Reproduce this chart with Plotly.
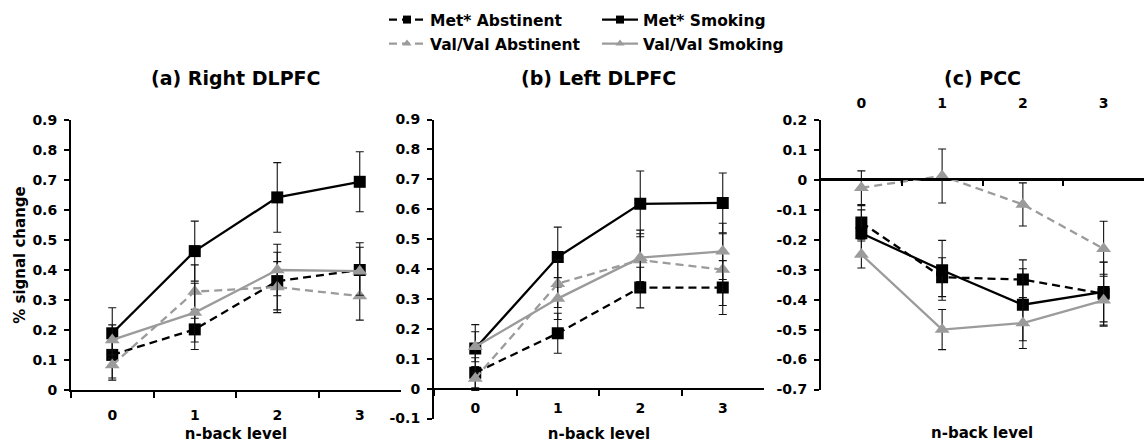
import plotly.graph_objects as go

W, H = 1144, 445

# ---------------- data ----------------
levels = ["0", "1", "2", "3"]
series_names = ["Met* Abstinent", "Met* Smoking", "Val/Val Abstinent", "Val/Val Smoking"]
panel_titles = ["(a) Right DLPFC", "(b) Left DLPFC", "(c) PCC"]

# (a) Right DLPFC
a_met_abs = [0.117, 0.202, 0.363, 0.400]
a_met_abs_err = [0.077, 0.067, 0.096, 0.091]
a_met_smk = [0.189, 0.463, 0.642, 0.694]
a_met_smk_err = [0.085, 0.100, 0.116, 0.100]
a_vv_abs = [0.083, 0.328, 0.343, 0.313]
a_vv_abs_err = [0.050, 0.089, 0.085, 0.080]
a_vv_smk = [0.167, 0.258, 0.400, 0.396]
a_vv_smk_err = [0.050, 0.098, 0.086, 0.080]

# (b) Left DLPFC
b_met_abs = [0.053, 0.185, 0.338, 0.338]
b_met_abs_err = [0.050, 0.067, 0.068, 0.090]
b_met_smk = [0.134, 0.440, 0.618, 0.621]
b_met_smk_err = [0.080, 0.100, 0.110, 0.100]
b_vv_abs = [0.034, 0.351, 0.430, 0.398]
b_vv_abs_err = [0.040, 0.080, 0.100, 0.120]
b_vv_smk = [0.140, 0.301, 0.438, 0.459]
b_vv_smk_err = [0.050, 0.070, 0.080, 0.094]

# (c) PCC
c_met_abs = [-0.142, -0.325, -0.333, -0.380]
c_met_abs_err = [0.056, 0.065, 0.066, 0.105]
c_met_smk = [-0.178, -0.302, -0.417, -0.374]
c_met_smk_err = [0.078, 0.100, 0.120, 0.100]
c_vv_abs = [-0.026, 0.013, -0.082, -0.230]
c_vv_abs_err = [0.056, 0.090, 0.072, 0.092]
c_vv_smk = [-0.249, -0.500, -0.478, -0.402]
c_vv_smk_err = [0.045, 0.067, 0.085, 0.087]

a_yticks = [0, 0.1, 0.2, 0.3, 0.4, 0.5, 0.6, 0.7, 0.8, 0.9]
a_ylabels = ["0", "0.1", "0.2", "0.3", "0.4", "0.5", "0.6", "0.7", "0.8", "0.9"]
b_yticks = [-0.1, 0, 0.1, 0.2, 0.3, 0.4, 0.5, 0.6, 0.7, 0.8, 0.9]
b_ylabels = ["-0.1", "0", "0.1", "0.2", "0.3", "0.4", "0.5", "0.6", "0.7", "0.8", "0.9"]
c_yticks = [-0.7, -0.6, -0.5, -0.4, -0.3, -0.2, -0.1, 0, 0.1, 0.2]
c_ylabels = ["-0.7", "-0.6", "-0.5", "-0.4", "-0.3", "-0.2", "-0.1", "0", "0.1", "0.2"]

# ---------------- styling ----------------
BLACK = "#000000"
GRAY = "#9b9b9b"
FONT = "DejaVu Sans"
DASH = "8px,5px"

styles = {
    "Met* Abstinent": dict(color=BLACK, symbol="square", dash=DASH, size=12, legend="legend"),
    "Met* Smoking": dict(color=BLACK, symbol="square", dash="solid", size=12, legend="legend"),
    "Val/Val Abstinent": dict(color=GRAY, symbol="triangle-up", dash=DASH, size=13, legend="legend2"),
    "Val/Val Smoking": dict(color=GRAY, symbol="triangle-up", dash="solid", size=13, legend="legend2"),
}


def px_x(p):
    return p / W


def px_y(p):
    return 1 - p / H


fig = go.Figure()

panels = [
    ("x", "y", [(a_met_abs, a_met_abs_err), (a_met_smk, a_met_smk_err),
                (a_vv_abs, a_vv_abs_err), (a_vv_smk, a_vv_smk_err)]),
    ("x2", "y2", [(b_met_abs, b_met_abs_err), (b_met_smk, b_met_smk_err),
                  (b_vv_abs, b_vv_abs_err), (b_vv_smk, b_vv_smk_err)]),
    ("x3", "y3", [(c_met_abs, c_met_abs_err), (c_met_smk, c_met_smk_err),
                  (c_vv_abs, c_vv_abs_err), (c_vv_smk, c_vv_smk_err)]),
]

for xa, ya, data in panels:
    for name, (vals, errs) in zip(series_names, data):
        st = styles[name]
        fig.add_trace(go.Scatter(
            x=levels, y=vals, xaxis=xa, yaxis=ya, name=name, showlegend=False,
            mode="lines+markers",
            line=dict(color=st["color"], width=2.3, dash=st["dash"]),
            marker=dict(color=st["color"], symbol=st["symbol"], size=st["size"],
                        line=dict(width=0)),
            error_y=dict(type="data", array=errs, visible=True, color="#111111",
                         thickness=1.1, width=4),
            hoverinfo="skip",
        ))

# legend entries
for name in series_names:
    st = styles[name]
    fig.add_trace(go.Scatter(
        x=[None], y=[None], xaxis="x", yaxis="y", name=name, legend=st["legend"],
        mode="lines+markers",
        line=dict(color=st["color"], width=2.3, dash=st["dash"]),
        marker=dict(color=st["color"], symbol=st["symbol"], size=8),
    ))

# empty trace so the crossing axis of panel (c) is drawn
fig.add_trace(go.Scatter(x=[None], y=[None], xaxis="x4", yaxis="y3", showlegend=False,
                         hoverinfo="skip"))

tickfont = dict(family=FONT, size=14, color=BLACK, weight="bold")
titlefont = dict(family=FONT, size=15, color=BLACK, weight="bold")

common_x = dict(
    type="category", categoryorder="array", categoryarray=levels, range=[-0.5, 3.5],
    showline=True, linecolor=BLACK, linewidth=2, ticks="outside", tickson="boundaries",
    ticklen=6, tickwidth=2, tickcolor=BLACK, tickfont=tickfont, showgrid=False,
    zeroline=False, automargin=False,
)
common_y = dict(
    showline=True, linecolor=BLACK, linewidth=2, ticks="outside", ticklen=5, tickwidth=2,
    tickcolor=BLACK, tickfont=tickfont, showgrid=False, zeroline=False,
    automargin=False, tickmode="array", ticklabelstandoff=4,
)

fig.update_layout(
    width=W, height=H,
    margin=dict(l=0, r=0, t=0, b=0), autosize=False,
    paper_bgcolor="white", plot_bgcolor="white",
    xaxis=dict(common_x, domain=[px_x(71), px_x(401)], anchor="y",
               ticklabelstandoff=11,
               title=dict(text="n-back level", font=titlefont, standoff=7)),
    yaxis=dict(common_y, domain=[px_y(390), px_y(120)], anchor="x", range=[0, 0.9],
               tickvals=a_yticks, ticktext=a_ylabels,
               title=dict(text="% signal change", font=titlefont, standoff=3)),
    xaxis2=dict(common_x, domain=[px_x(434), px_x(764)], anchor="free",
                position=px_y(388.7), ticklabelstandoff=6,
                title=dict(text="n-back level", font=titlefont, standoff=13)),
    yaxis2=dict(common_y, domain=[px_y(418.5), px_y(119.5)], anchor="x2", range=[-0.1, 0.9],
                tickvals=b_yticks, ticktext=b_ylabels),
    xaxis3=dict(common_x, domain=[px_x(821), 1.0], anchor="y3", side="top",
                showline=False, ticks="", ticklabelstandoff=8),
    xaxis4=dict(overlaying="x3", anchor="free", position=px_y(179), type="linear",
                range=[-0.5, 3.5], tickmode="array", tickvals=[0.5, 1.5, 2.5],
                showline=True, linecolor=BLACK, linewidth=2, ticks="outside",
                ticklen=6, tickwidth=2, tickcolor=BLACK, showticklabels=False,
                showgrid=False, zeroline=False, automargin=False),
    yaxis3=dict(common_y, domain=[px_y(389.5), px_y(120)], anchor="x3", range=[-0.7, 0.2],
                tickvals=c_yticks, ticktext=c_ylabels,
                zeroline=True, zerolinecolor=BLACK, zerolinewidth=2),
    legend=dict(orientation="h", x=px_x(384), xanchor="left", y=px_y(20), yanchor="middle",
                entrywidth=162, entrywidthmode="pixels", itemwidth=36,
                font=dict(family=FONT, size=15.5, color=BLACK, weight="bold"),
                bgcolor="rgba(0,0,0,0)", borderwidth=0),
    legend2=dict(orientation="h", x=px_x(384), xanchor="left", y=px_y(44), yanchor="middle",
                 entrywidth=162, entrywidthmode="pixels", itemwidth=36,
                 font=dict(family=FONT, size=15.5, color=BLACK, weight="bold"),
                 bgcolor="rgba(0,0,0,0)", borderwidth=0),
)

title_centers = [236, 598, 982]
for txt, cx in zip(panel_titles, title_centers):
    fig.add_annotation(text=txt, x=px_x(cx), y=px_y(78), xref="paper", yref="paper",
                       xanchor="center", yanchor="middle", showarrow=False,
                       font=dict(family=FONT, size=19, color=BLACK, weight="bold"))

# x-axis title of panel (c), which sits below its plot area
fig.add_annotation(text="n-back level", x=px_x(982), y=px_y(433), xref="paper", yref="paper",
                   xanchor="center", yanchor="middle", showarrow=False, font=titlefont)

fig.write_html("out.html", config={"displayModeBar": False},
               post_script="document.body.style.margin='0px';")
